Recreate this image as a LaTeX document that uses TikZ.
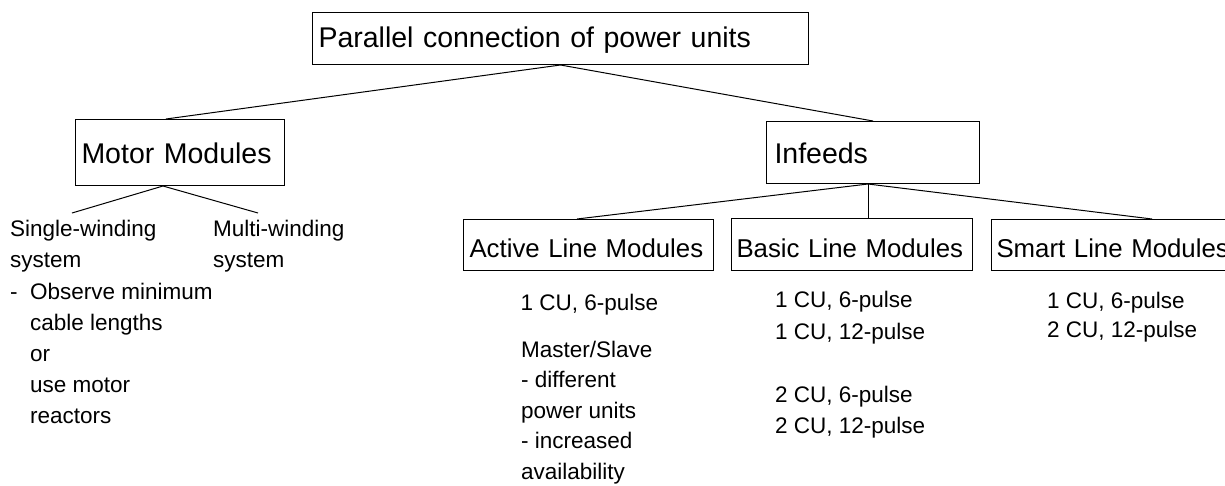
\documentclass[tikz,border=0pt]{standalone}
\usepackage{fontspec}
\setmainfont{Liberation Sans}
\usetikzlibrary{calc}
\tikzset{
  boxnode/.style={draw=black, line width=1pt, anchor=north west, inner xsep=6pt, inner ysep=0pt,
    align=left, text depth=0pt},
  bigbox/.style={boxnode, font=\fontsize{28.5}{34}\selectfont, text height=22pt},
  subbox/.style={boxnode, font=\fontsize{25.8}{31}\selectfont, text height=25pt},
  note/.style={anchor=base west, inner sep=0pt, align=left, font=\fontsize{22.5}{31}\selectfont},
  link/.style={draw=black, line width=1pt}
}
\begin{document}
\begin{tikzpicture}[x=1pt,y=-1pt]
\useasboundingbox (0,0) rectangle (1225,485);
\clip (0,0) rectangle (1225,485);
% boxes
\node[bigbox, text height=18pt, text width=484pt, minimum height=52pt] (top) at (312,12) {Parallel connection of power units};
\node[bigbox, text width=197pt, minimum height=66pt] (mm) at (75,119) {Motor Modules};
\node[bigbox, inner xsep=8pt, text width=197pt, minimum height=62pt] (inf) at (766,121) {Infeeds};
\node[subbox, text width=238pt, minimum height=51pt] (alm) at (463,219) {Active Line Modules};
\node[subbox, inner xsep=5pt, text width=231pt, minimum height=52pt] (blm) at (731,218) {Basic Line Modules};
\node[subbox, inner xsep=5pt, text width=240pt, minimum height=51pt] (slm) at (991,219) {Smart Line Modules};
% notes (anchored at the baseline of their last line)
\node[note] (sw1) at (10,267) {Single-winding\\system};
\node[note] (dash) at (10,299) {-};
\node[note] (sw2) at (30,423) {Observe minimum\\cable lengths\\or\\use motor\\reactors};
\node[note] (mw) at (213,267) {Multi-winding\\system};
\node[note] (a1) at (520.5,310) {1 CU, 6-pulse};
\node[note, font=\fontsize{22.5}{30.5}\selectfont] (a2) at (521,479) {Master/Slave\\- different\\power units\\- increased\\availability};
\node[note, font=\fontsize{22.5}{32}\selectfont] (b1) at (775,339) {1 CU, 6-pulse\\1 CU, 12-pulse};
\node[note] (b2) at (775,433) {2 CU, 6-pulse\\2 CU, 12-pulse};
\node[note, font=\fontsize{22.5}{29.5}\selectfont] (s1) at (1047,337.5) {1 CU, 6-pulse\\2 CU, 12-pulse};
% connector points
\coordinate (mmtop) at ($(mm.north west)+(91,0)$);
\coordinate (mmbot) at ($(mm.south west)+(88,0)$);
\coordinate (swend) at (72,213);
\coordinate (mwend) at (258,213);
\coordinate (infbot) at ($(inf.south west)+(102,0)$);
\coordinate (almtop) at ($(alm.north west)+(114,0)$);
\coordinate (slmtop) at ($(slm.north west)+(161,0)$);
% connectors
\draw[link] (top.south) -- (mmtop);
\draw[link] (top.south) -- (inf.north);
\draw[link] (mmbot) -- (swend);
\draw[link] (mmbot) -- (mwend);
\draw[link] (infbot) -- (almtop);
\draw[link] (infbot) -- (infbot |- blm.north);
\draw[link] (infbot) -- (slmtop);
\end{tikzpicture}
\end{document}
